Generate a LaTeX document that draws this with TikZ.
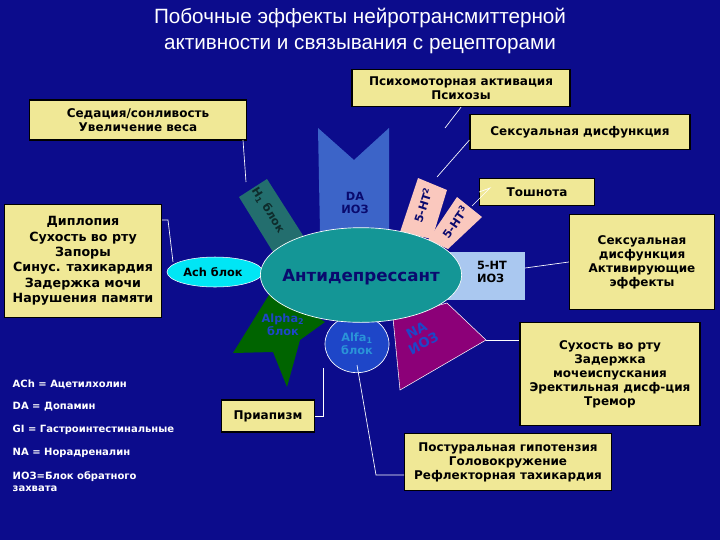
\documentclass[tikz,border=0pt]{standalone}
\usepackage{fontspec}
\usetikzlibrary{shapes.geometric}
\setmainfont{DejaVu Sans}
\newfontfamily\titlefont{Liberation Sans}
\begin{document}
\begin{tikzpicture}[x=0.75pt,y=-0.75pt,
  ybox/.style={draw=black,line width=0.8pt,fill=boxy,align=center,font=\bfseries\fontsize{9}{10.5}\selectfont,inner sep=2pt},
  conn/.style={draw=white,line width=0.5pt},
  lbl/.style={font=\bfseries\fontsize{8.5}{10}\selectfont,align=center},
  leg/.style={text=white,anchor=west,font=\bfseries\fontsize{7.5}{9}\selectfont,align=left}]
\definecolor{bg}{RGB}{12,12,140}
\definecolor{boxy}{RGB}{240,232,150}
\definecolor{tealc}{RGB}{20,150,150}
\definecolor{htc}{RGB}{35,110,110}
\definecolor{dac}{RGB}{60,100,200}
\definecolor{pinkc}{RGB}{250,200,190}
\definecolor{lbc}{RGB}{170,200,240}
\definecolor{cyanc}{RGB}{0,230,245}
\definecolor{greenc}{RGB}{0,100,0}
\definecolor{alfc}{RGB}{30,70,200}
\definecolor{nac}{RGB}{140,0,120}
\definecolor{darkt}{RGB}{10,10,110}
\fill[bg] (0,0) rectangle (720,540);
\useasboundingbox (0,0) rectangle (720,540);
% title
\node[text=white,font=\titlefont\fontsize{15.5}{19}\selectfont,align=center] (title) at (360,31) {Побочные эффекты нейротрансмиттерной\\активности и связывания с рецепторами};
% shapes
\fill[dac] (318,128) -- (354,160) -- (389,128) -- (389,232) -- (320,232) -- cycle;
\fill[htc] (239,197) -- (267,179) -- (304,237) -- (273,252) -- cycle;
\fill[pinkc] (400,232) -- (418,178) -- (447,190) -- (432,239) -- cycle;
\fill[pinkc] (428,240) -- (457,197) -- (482,217) -- (448,249) -- cycle;
\fill[lbc] (445,252) rectangle (525,300);
\fill[greenc] (272,290) -- (325,322) -- (300,340) -- (287,387) -- (273,352) -- (233,353) -- cycle;
\fill[nac,draw=white,line width=0.4pt] (393,318) -- (447,303) -- (486,340) -- (400,390) -- cycle;
\node[ellipse,minimum width=72,minimum height=22.5,fill=cyanc,draw=white,line width=0.4pt,inner sep=0] (ach) at (215,272) {};
\node[ellipse,fill=alfc,draw=white,line width=0.5pt,minimum width=48,minimum height=43,inner sep=0] (alf) at (357,344) {};
\node[ellipse,fill=tealc,draw=white,line width=0.5pt,minimum width=151,minimum height=71,inner sep=0] (ad) at (361,275) {};
% shape labels
\node[lbl,text=darkt] (ld) at (355,203) {DA\\ИОЗ};
\node[lbl,text=htc!40!black,rotate=-58] (lh) at (268,210) {H\textsubscript{1} блок};
\node[lbl,text=darkt,rotate=72] (l2) at (423,205) {5-HT\textsuperscript{2}};
\node[lbl,text=darkt,rotate=55] (l3) at (455,222) {5-HT\textsuperscript{3}};
\node[lbl,text=black,align=left] (l5) at (492,272) {5-HT\\ИОЗ};
\node[lbl,text=black] (la) at (213,272) {Ach блок};
\node[font=\bfseries\fontsize{12.5}{14}\selectfont,text=darkt] (lad) at (361,277) {Антидепрессант};
\node[lbl,text=alfc] (lal2) at (283,325) {Alpha\textsubscript{2}\\блок};
\node[lbl,text=dac!70!cyan] (lal1) at (357,344) {Alfa\textsubscript{1}\\блок};
\node[font=\bfseries\fontsize{10}{11}\selectfont,text=alfc,rotate=28,align=center] (lna) at (420,337) {NA\\ИОЗ};
% boxes
\node[ybox,minimum width=163.5,minimum height=28] (psy) at (461,88) {Психомоторная активация\\Психозы};
\node[ybox,minimum width=163,minimum height=30] (sed) at (138,120) {Седация/сонливость\\Увеличение веса};
\node[ybox,minimum width=165,minimum height=26] (sex) at (580,132) {Сексуальная дисфункция};
\node[ybox,minimum width=118,minimum height=85,font=\bfseries\fontsize{9.5}{11.5}\selectfont] (dip) at (83,261) {Диплопия\\Сухость во рту\\Запоры\\Синус. тахикардия\\Задержка мочи\\Нарушения памяти};
\node[ybox,minimum width=86,minimum height=20] (nau) at (537,192) {Тошнота};
\node[ybox,minimum width=109,minimum height=71] (act) at (642,262) {Сексуальная\\дисфункция\\Активирующие\\эффекты};
\node[ybox,minimum width=135,minimum height=77] (dry) at (610,374) {Сухость во рту\\Задержка\\мочеиспускания\\Эректильная дисф-ция\\Тремор};
\node[ybox,minimum width=70,minimum height=24] (pri) at (268,416) {Приапизм};
\node[ybox,minimum width=155,minimum height=43] (pos) at (508,462) {Постуральная гипотензия\\Головокружение\\Рефлекторная тахикардия};
% connectors
\draw[conn] (243,140) -- (246,182);
\draw[conn] (sex.west |- 0,140) -- (437,177);
\draw[conn] (psy.south) -- (445,128);
\draw[conn] (nau.west) -- (490,188) -- (472,206);
\draw[conn] (dip.east |- 0,220) -- (168,220) -- (173,262);
\draw[conn] (525,268) -- (act.west);
\draw[conn] (486,340) -- (dry.west |- 0,340);
\draw[conn] (323,368) -- (323,416) -- (pri.east);
\draw[conn] (357,365) -- (376,475) -- (pos.west |- 0,475);
% legend
\node[leg] (g1) at (8,384) {ACh = Ацетилхолин};
\node[leg] (g2) at (8,407) {DA = Допамин};
\node[leg] (g3) at (8,430) {GI = Гастроинтестинальные};
\node[leg] (g4) at (8,453) {NA = Норадреналин};
\node[leg] (g5) at (8,482) {ИОЗ=Блок обратного\\захвата};
\end{tikzpicture}
\end{document}
